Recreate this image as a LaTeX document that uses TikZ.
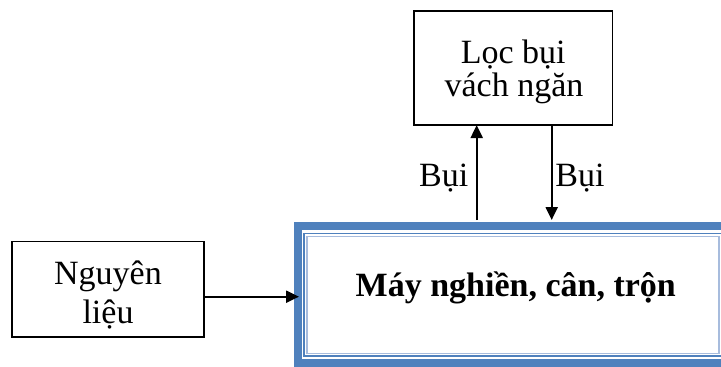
\documentclass[tikz,border=0pt]{standalone}
\usepackage{fontspec}
\setmainfont{Liberation Serif}
\usetikzlibrary{arrows.meta}
\definecolor{bandblue}{HTML}{4F81BD}
\definecolor{lightblue}{HTML}{A7BCDD}
\begin{document}
\begin{tikzpicture}[x=1pt,y=-1pt,
  box/.style={draw=black,line width=1.6pt,inner sep=0pt,outer sep=0pt},
  txt/.style={font=\fontsize{34}{34}\selectfont,inner sep=0pt,anchor=base},
  btxt/.style={font=\fontsize{34}{34}\selectfont\bfseries,inner sep=0pt,anchor=base},
  arr/.style={line width=2.2pt,-{Triangle[length=13pt,width=12pt]}}]
\useasboundingbox (0,0) rectangle (721,367);
% boxes
\node[box,minimum width=198.3pt,minimum height=114.3pt] (loc) at (513.2,67.9) {};
\node[box,minimum width=192.3pt,minimum height=95.3pt] (nguyen) at (107.9,289.3) {};
\node[draw=bandblue,line width=8pt,inner sep=0pt,minimum width=432pt,minimum height=136.8pt] (main) at (514,294.4) {};
\draw[bandblue,line width=1.8pt] (304.2,233.5) rectangle (723,356.2);
\draw[lightblue,line width=1.1pt] (307,236.2) rectangle (719,353.3);
% texts
\node[txt] (loct1) at (513.2,63.3) {Lọc bụi};
\node[txt] (loct2) at (514,96.7) {vách ngăn};
\node[txt] (ngt1) at (108,284) {Nguyên};
\node[txt] (ngt2) at (108,323.3) {liệu};
\node[btxt] (maint) at (515.8,296.7) {Máy nghiền, cân, trộn};
\node[txt] (bui1) at (443.7,186.7) {Bụi};
\node[txt] (bui2) at (580,186.7) {Bụi};
% connectors
\coordinate (ya) at (0,296.7);
\coordinate (upstart) at (476.7,220);
\coordinate (downend) at (551.7,220);
\draw[arr,shorten >=-5pt] (nguyen.east |- ya) -- (main.west |- ya);
\draw[arr] (upstart) -- (upstart |- loc.south);
\draw[arr] (downend |- loc.south) -- (downend);
\end{tikzpicture}
\end{document}
